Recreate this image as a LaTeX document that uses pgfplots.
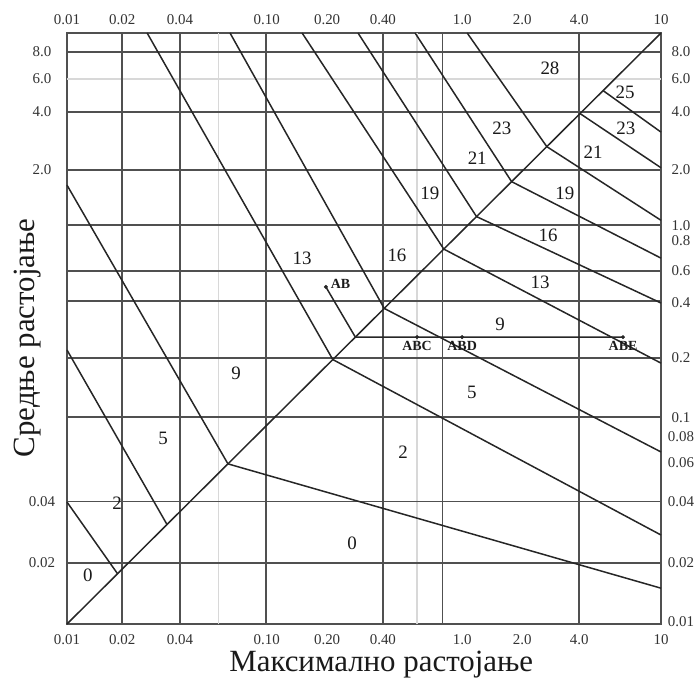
\documentclass[border=0pt]{standalone}
\usepackage{pgfplots}
\pgfplotsset{compat=1.18}
\usepackage{fontspec}
\setmainfont{Liberation Serif}
\definecolor{ln}{HTML}{262626}
\definecolor{gd}{HTML}{505050}
\definecolor{gf}{HTML}{D8D8D8}
\definecolor{tx}{HTML}{1A1A1A}
\definecolor{tk}{HTML}{333333}

\newcommand{\vgrid}[2]{\addplot[#1] coordinates {(#2,0.01) (#2,10)};}
\newcommand{\hgrid}[2]{\addplot[#1] coordinates {(0.01,#2) (10,#2)};}

\begin{document}
\begin{tikzpicture}
\begin{axis}[
  name=main,
  scale only axis, width=594bp, height=591bp,
  xmode=log, ymode=log, xmin=0.01, xmax=10, ymin=0.01, ymax=10,
  axis line style={gd, line width=1.5bp},
  major tick length=0pt, minor tick length=0pt,
  xtick={0.01,0.019,0.0372,0.102,0.206,0.394,0.99,1.99,3.86,10},
  xticklabels={0.01,0.02,0.04,0.10,0.20,0.40,1.0,2.0,4.0,10},
  ytick={8.0,5.84,3.97,2.02,0.042,0.0204},
  yticklabels={8.0,6.0,4.0,2.0,0.04,0.02},
  tick label style={font=\fontsize{15}{15}\selectfont, text=tk},
  xticklabel style={anchor=center, yshift=-16bp},
  yticklabel style={anchor=center, xshift=-25bp},
  xlabel={Максимално растојање}, ylabel={Средње растојање},
  label style={font=\fontsize{31}{31}\selectfont, text=tx},
  xlabel style={at={(axis description cs:0.529,-0.069)}, anchor=center},
  ylabel style={at={(axis description cs:-0.0657,0.484)}, anchor=center},
  clip=false,
]
% faint grid
\vgrid{gf, line width=1.3bp}{0.058}
\vgrid{gf, line width=1.3bp}{0.586}
\hgrid{gf, line width=1.3bp}{5.84}
% dark grid
\vgrid{gd, line width=1.4bp}{0.019}
\vgrid{gd, line width=1.4bp}{0.0373}
\vgrid{gd, line width=1.4bp}{0.101}
\vgrid{gd, line width=1.4bp}{0.394}
\vgrid{gd, line width=1.4bp}{0.79}
\vgrid{gd, line width=1.4bp}{3.86}
\hgrid{gd, line width=1.4bp}{8.0}
\hgrid{gd, line width=1.4bp}{3.97}
\hgrid{gd, line width=1.4bp}{2.02}
\hgrid{gd, line width=1.4bp}{1.06}
\hgrid{gd, line width=1.4bp}{0.62}
\hgrid{gd, line width=1.4bp}{0.436}
\hgrid{gd, line width=1.4bp}{0.224}
\hgrid{gd, line width=1.4bp}{0.1125}
\hgrid{gd, line width=1.4bp}{0.042}
\hgrid{gd, line width=1.4bp}{0.0204}
% diagonal
\addplot[ln, line width=1.5bp] coordinates {(0.01,0.01) (10,10)};
% boundary lines
\addplot[ln, line width=1.5bp] coordinates {(0.01,0.0416) (0.018,0.018)};
\addplot[ln, line width=1.5bp] coordinates {(0.01,0.246) (0.032,0.032)};
\addplot[ln, line width=1.5bp] coordinates {(0.01,1.69) (0.065,0.065) (10,0.0152)};
\addplot[ln, line width=1.5bp] coordinates {(0.0254,10) (0.22,0.22) (10,0.0283)};
\addplot[ln, line width=1.5bp] coordinates {(0.0666,10) (0.4,0.4) (10,0.0747)};
\addplot[ln, line width=1.5bp] coordinates {(0.154,10) (0.8,0.8) (10,0.211)};
\addplot[ln, line width=1.5bp] coordinates {(0.295,10) (1.17,1.17) (10,0.426)};
\addplot[ln, line width=1.5bp] coordinates {(0.573,10) (1.76,1.76) (10,0.72)};
\addplot[ln, line width=1.5bp] coordinates {(1.05,10) (2.65,2.65) (10,1.12)};
\addplot[ln, line width=1.5bp] coordinates {(3.9,3.9) (10,2.07)};
\addplot[ln, line width=1.5bp] coordinates {(5.1,5.1) (10,3.14)};
% AB path
\addplot[ln, line width=1.5bp] coordinates {(0.203,0.514) (0.286,0.286) (6.43,0.286)};
\addplot[only marks, mark=*, mark size=1.8bp, ln] coordinates {(0.203,0.514) (0.586,0.286) (0.99,0.286) (6.43,0.286)};
% region labels
\begin{scope}[every node/.style={font=\fontsize{19}{19}\selectfont, text=tx}]
\node at (axis cs:0.01276,0.01774) {0};
\node at (axis cs:0.0179,0.0411) {2};
\node at (axis cs:0.0306,0.0879) {5};
\node at (axis cs:0.0715,0.188) {9};
\node at (axis cs:0.154,0.721) {13};
\node at (axis cs:0.464,0.746) {16};
\node at (axis cs:0.681,1.54) {19};
\node at (axis cs:1.18,2.32) {21};
\node at (axis cs:1.57,3.30) {23};
\node at (axis cs:2.75,6.64) {28};
\node at (axis cs:6.58,5.02) {25};
\node at (axis cs:6.65,3.30) {23};
\node at (axis cs:4.54,2.49) {21};
\node at (axis cs:3.27,1.54) {19};
\node at (axis cs:2.69,0.944) {16};
\node at (axis cs:2.45,0.545) {13};
\node at (axis cs:1.54,0.333) {9};
\node at (axis cs:1.11,0.149) {5};
\node at (axis cs:0.498,0.0747) {2};
\node at (axis cs:0.275,0.0258) {0};
\end{scope}
\begin{scope}[every node/.style={font=\bfseries\fontsize{14}{14}\selectfont, text=tx, inner sep=1bp}]
\node[anchor=west] at (axis cs:0.212,0.53) {AB};
\node[anchor=north] at (axis cs:0.586,0.276) {ABC};
\node[anchor=north] at (axis cs:0.99,0.276) {ABD};
\node[anchor=north] at (axis cs:6.43,0.276) {ABE};
\end{scope}
\end{axis}
\begin{axis}[
  scale only axis, width=594bp, height=591bp,
  xmode=log, ymode=log, xmin=0.01, xmax=10, ymin=0.01, ymax=10,
  axis line style={draw=none},
  major tick length=0pt, minor tick length=0pt,
  xticklabel pos=upper, yticklabel pos=right,
  xtick={0.01,0.019,0.0372,0.102,0.206,0.394,0.99,1.99,3.86,10},
  xticklabels={0.01,0.02,0.04,0.10,0.20,0.40,1.0,2.0,4.0,10},
  ytick={8.0,5.84,3.97,2.02,1.05,0.88,0.62,0.43,0.224,0.112,0.089,0.066,0.042,0.0204,0.0103},
  yticklabels={8.0,6.0,4.0,2.0,1.0,0.8,0.6,0.4,0.2,0.1,0.08,0.06,0.04,0.02,0.01},
  tick label style={font=\fontsize{15}{15}\selectfont, text=tk},
  xticklabel style={anchor=center, yshift=13bp},
  yticklabel style={anchor=center, xshift=20bp},
]
\addplot[draw=none] coordinates {(1,1)};
\end{axis}
\pgfresetboundingbox
\path (-67bp,-60bp) rectangle (633bp,624bp);
\end{tikzpicture}
\end{document}
